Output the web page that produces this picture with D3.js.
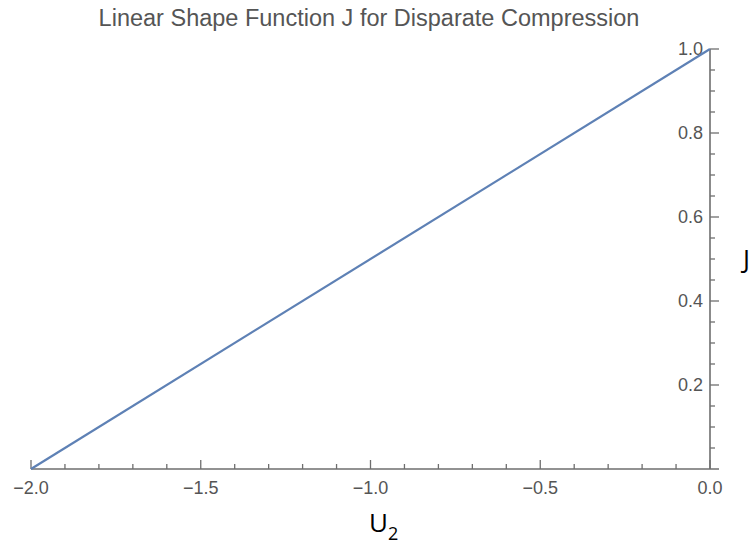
<!DOCTYPE html>
<html>
<head>
<meta charset="utf-8">
<script src="https://cdn.jsdelivr.net/npm/d3@7"></script>
<style>
  body { margin: 0; background: #fff; }
</style>
</head>
<body>
<div id="chart"></div>
<script>
// Line J(U2) from (-2, 0) to (0, 1)
const uValues = [-2, 0];
const jValues = [0, 1];
const xMajorTicks = [-2.0, -1.5, -1.0, -0.5, 0.0];
const yMajorTicks = [0.2, 0.4, 0.6, 0.8, 1.0];

const width = 754;
const height = 550;

const x = d3.scaleLinear().domain([-2, 0]).range([31, 710]);
const y = d3.scaleLinear().domain([0, 1]).range([469, 49]);

const svg = d3.select("#chart").append("svg")
  .attr("width", width)
  .attr("height", height)
  .attr("viewBox", [0, 0, width, height]);

const axisColor = "#6e6e6e";
const labelColor = "#555";

// title
svg.append("text")
  .attr("x", 369)
  .attr("y", 26)
  .attr("text-anchor", "middle")
  .attr("fill", labelColor)
  .style("font", "23.5px 'Liberation Sans', Arial, sans-serif")
  .text("Linear Shape Function J for Disparate Compression");

// x axis (ticks point up)
const xMinor = d3.range(-2, 0.0001, 0.1).map(v => +v.toFixed(1))
  .filter(v => !xMajorTicks.some(m => Math.abs(m - v) < 1e-9));

svg.append("line")
  .attr("x1", x(-2)).attr("x2", x(0) + 9)
  .attr("y1", y(0)).attr("y2", y(0))
  .attr("stroke", axisColor).attr("stroke-width", 1.6);

svg.selectAll(".xmaj").data(xMajorTicks).join("line")
  .attr("x1", d => x(d)).attr("x2", d => x(d))
  .attr("y1", y(0)).attr("y2", y(0) - 9)
  .attr("stroke", axisColor).attr("stroke-width", 1.3);

svg.selectAll(".xmin").data(xMinor).join("line")
  .attr("x1", d => x(d)).attr("x2", d => x(d))
  .attr("y1", y(0)).attr("y2", y(0) - 5)
  .attr("stroke", axisColor).attr("stroke-width", 1.3);

svg.selectAll(".xlab").data(xMajorTicks).join("text")
  .attr("x", d => x(d))
  .attr("y", 494)
  .attr("text-anchor", "middle")
  .attr("fill", labelColor)
  .style("font", "18px 'Liberation Sans', Arial, sans-serif")
  .text(d => d3.format(".1f")(d).replace("-", "\u2212"));

// y axis at U2 = 0 (ticks point right)
const yMinor = d3.range(0.05, 1.0001, 0.05).map(v => +v.toFixed(2))
  .filter(v => !yMajorTicks.some(m => Math.abs(m - v) < 1e-9));

svg.append("line")
  .attr("x1", x(0)).attr("x2", x(0))
  .attr("y1", y(0)).attr("y2", y(1))
  .attr("stroke", axisColor).attr("stroke-width", 1.6);

svg.selectAll(".ymaj").data(yMajorTicks).join("line")
  .attr("x1", x(0)).attr("x2", x(0) + 9)
  .attr("y1", d => y(d)).attr("y2", d => y(d))
  .attr("stroke", axisColor).attr("stroke-width", 1.3);

svg.selectAll(".ymin").data(yMinor).join("line")
  .attr("x1", x(0)).attr("x2", x(0) + 5)
  .attr("y1", d => y(d)).attr("y2", d => y(d))
  .attr("stroke", axisColor).attr("stroke-width", 1.3);

svg.selectAll(".ylab").data(yMajorTicks).join("text")
  .attr("x", x(0) - 7)
  .attr("y", d => y(d) + 6)
  .attr("text-anchor", "end")
  .attr("fill", labelColor)
  .style("font", "18px 'Liberation Sans', Arial, sans-serif")
  .text(d => d3.format(".1f")(d));

// the line
svg.append("path")
  .datum(uValues.map((u, i) => [u, jValues[i]]))
  .attr("fill", "none")
  .attr("stroke", "#5e81b5")
  .attr("stroke-width", 2.2)
  .attr("d", d3.line().x(d => x(d[0])).y(d => y(d[1])));

// axis labels
const uLabel = svg.append("text")
  .attr("x", 369)
  .attr("y", 532)
  .attr("fill", "#000")
  .style("font", "26px 'Open Sans', sans-serif")
  .text("U");
uLabel.append("tspan")
  .attr("dy", 8)
  .style("font-size", "18px")
  .text("2");

svg.append("text")
  .attr("x", 743)
  .attr("y", 268)
  .attr("fill", "#000")
  .style("font", "26px 'Open Sans', sans-serif")
  .text("J");
</script>
</body>
</html>
